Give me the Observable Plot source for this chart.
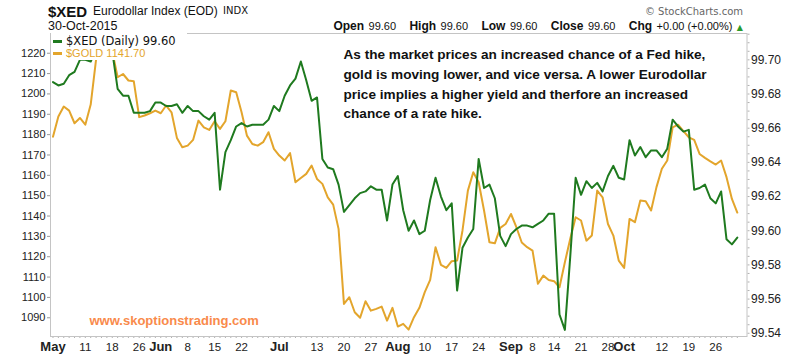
<!DOCTYPE html>
<html><head><meta charset="utf-8">
<script src="https://cdn.jsdelivr.net/npm/d3@7"></script>
<script src="https://cdn.jsdelivr.net/npm/@observablehq/plot@0.6"></script>
<style>
body{margin:0;background:#fff;}
#wrap{position:relative;width:800px;height:357px;font-family:"Liberation Sans",Arial,sans-serif;color:#111;overflow:hidden;}
.a{position:absolute;white-space:nowrap;line-height:1;}
.b{font-weight:bold;font-size:12px;}
.v{font-size:11px;}
</style></head><body>
<div id="wrap">
  <div id="chart" style="position:absolute;left:0;top:32px"></div>
  <div class="a" style="left:48px;top:4px;font-size:15px;font-weight:bold">$XED</div>
  <div class="a" style="left:93px;top:5px;font-size:12px">Eurodollar Index (EOD)</div>
  <div class="a" style="left:223px;top:6px;font-size:10px;font-family:'DejaVu Sans'">INDX</div>
  <div class="a" style="left:48px;top:20px;font-size:12.5px">30-Oct-2015</div>
  <div class="a" style="right:57px;top:7px;font-size:10px;font-family:'DejaVu Sans';color:#666">© StockCharts.com</div>
  <div class="a" id="ohlc" style="right:57px;top:19px;height:12px;line-height:12px"></div>
  <div id="legend" class="a" style="left:51px;top:33px;width:136px;height:27px;background:#fff"></div>
</div>
<script>
// ---- data (trading days 1-May-2015 .. 30-Oct-2015, index 0..127) ----
const xedValues = [
 99.687,99.685,99.686,99.691,99.693,99.700,99.700,99.699,99.706,99.710,
 99.712,99.705,99.683,99.679,99.679,99.669,99.669,99.669,99.670,99.675,
 99.675,99.673,99.673,99.674,99.669,99.673,99.670,99.670,99.667,99.665,
 99.669,99.624,99.646,99.653,99.661,99.663,99.661,99.662,99.662,99.662,
 99.665,99.673,99.670,99.679,99.685,99.689,99.699,99.688,99.676,99.678,
 99.642,99.637,99.636,99.627,99.611,99.615,99.619,99.622,99.623,99.626,
 99.624,99.624,99.606,99.627,99.632,99.612,99.600,99.606,99.598,99.600,
 99.618,99.631,99.620,99.612,99.616,99.565,99.590,99.596,99.601,99.642,
 99.625,99.627,99.619,99.597,99.591,99.598,99.601,99.603,99.603,99.602,
 99.604,99.606,99.610,99.610,99.551,99.542,99.585,99.631,99.621,99.629,
 99.625,99.628,99.623,99.632,99.638,99.631,99.630,99.653,99.644,99.649,
 99.643,99.647,99.647,99.643,99.648,99.665,99.661,99.658,99.659,99.624,
 99.625,99.627,99.619,99.616,99.623,99.595,99.592,99.596];
const goldValues = [
 1179.0,1188.9,1193.8,1191.8,1185.6,1188.2,1184.9,1194.8,1217.0,1223.0,
 1226.0,1221.0,1208.2,1209.8,1206.6,1206.2,1188.6,1189.4,1190.5,1191.8,
 1190.5,1194.3,1191.0,1178.4,1173.8,1174.6,1177.4,1186.9,1183.6,1182.3,
 1186.6,1182.8,1186.6,1201.7,1200.8,1191.0,1179.5,1175.4,1174.6,1176.3,
 1181.2,1173.0,1169.7,1167.3,1170.9,1156.6,1158.7,1160.7,1164.8,1158.2,
 1155.8,1149.2,1145.6,1133.7,1096.8,1100.1,1092.7,1090.0,1098.1,1093.5,
 1094.4,1095.5,1088.6,1094.9,1085.7,1087.0,1084.2,1090.3,1094.9,1102.6,
 1108.6,1124.7,1116.0,1114.5,1117.8,1118.1,1132.9,1152.5,1161.5,1156.6,
 1142.7,1127.1,1126.6,1134.2,1136.1,1141.0,1134.5,1127.0,1124.7,1123.0,
 1106.7,1110.7,1108.6,1108.0,1105.0,1117.3,1128.8,1139.4,1137.8,1127.9,
 1130.4,1152.5,1149.2,1136.1,1130.4,1118.1,1114.5,1138.6,1137.0,1147.6,
 1147.3,1142.7,1154.2,1163.2,1167.3,1183.6,1184.9,1181.7,1178.7,1177.4,
 1170.5,1168.6,1166.9,1165.3,1167.3,1159.1,1148.4,1141.7];
const monthTickIdx = [0,20,42,64,85,106];
const monthTickLabels = ["May","Jun","Jul","Aug","Sep","Oct"];
const dayTickIdx = [6,11,16,25,30,35,49,54,59,69,74,79,89,93,98,103,113,118,123];
const dayTickLabels = ["11","18","26","8","15","22","13","20","27","10","17","24","8","14","21","28","12","19","26"];
const goldTicks = [1090,1100,1110,1120,1130,1140,1150,1160,1170,1180,1190,1200,1210,1220];
const xedTicks = [99.54,99.56,99.58,99.60,99.62,99.64,99.66,99.68,99.70];
const legendNames = ["$XED (Daily) 99.60","$GOLD 1141.70"];
const ohlc = [["Open","99.60"],["High","99.60"],["Low","99.60"],["Close","99.60"],["Chg","+0.00 (+0.00%)"]];
const note = "As the market prices an increased chance of a Fed hike,\ngold is moving lower, and vice versa. A lower Eurodollar\nprice implies a higher yield and therfore an increased\nchance of a rate hike.";
const watermark = "www.skoptionstrading.com";

const GREEN = "#1f7a1f", GOLD = "#e3a52c";

// header OHLC line
document.getElementById("ohlc").innerHTML = ohlc.map(([k,v]) =>
  `<span class="b">${k}</span> <span class="v">${v}</span>`).join("&nbsp;&nbsp;&nbsp;") +
  ` <span style="font-family:'DejaVu Sans';font-size:8px;color:#2a9a2a">▲</span>`;

// legend
document.getElementById("legend").innerHTML =
  `<div style="position:absolute;left:2px;top:3px;height:11.5px;line-height:11.5px;display:flex;align-items:center;font-family:'DejaVu Sans';font-size:11.5px;color:#111"><span style="display:inline-block;width:9px;height:3px;background:${GREEN};margin-right:4px"></span>${legendNames[0]}</div>` +
  `<div style="position:absolute;left:2px;top:15px;height:11px;line-height:11px;display:flex;align-items:center;font-size:11px;color:${GOLD}"><span style="display:inline-block;width:9px;height:3px;background:${GOLD};margin-right:4px"></span>${legendNames[1]}</div>`;

// XED is drawn against the right axis: map it into the left (gold) scale's units
const xedToGold = d3.scaleLinear().domain([99.54, 99.70]).range([1082.39, 1216.76]);
const rows = xedValues.map((v, i) => ({i, xed: xedToGold(v), gold: goldValues[i]}));
const allDays = d3.range(xedValues.length);
const monthMap = new Map(monthTickIdx.map((d, k) => [d, monthTickLabels[k]]));
const dayMap = new Map(dayTickIdx.map((d, k) => [d, dayTickLabels[k]]));
const minorXed = d3.range(99.54, 99.7151, 0.005).map(xedToGold);

const chart = Plot.plot({
  width: 800, height: 325,
  marginTop: 1, marginBottom: 21, marginLeft: 50, marginRight: 53.5,
  x: {type: "linear", domain: [-0.46, 128.8], label: null},
  y: {domain: [1080.8, 1229.7], label: null},
  style: {fontFamily: "'Liberation Sans', Arial, sans-serif", fontSize: "11px", color: "#222", background: "white"},
  marks: [
    Plot.axisX({ticks: allDays, tickSize: 2, tickFormat: () => "", stroke: "#b0b0b0"}),
    Plot.axisY({anchor: "right", ticks: minorXed, tickSize: 2, tickFormat: () => "", stroke: "#b0b0b0"}),
    Plot.axisY({anchor: "left", ticks: goldTicks, tickSize: 3, tickPadding: 2, tickFormat: d => String(d), fontSize: 11, stroke: "#999"}),
    Plot.axisY({anchor: "right", ticks: xedTicks.map(xedToGold), tickSize: 0, tickPadding: 4,
      tickFormat: d => xedToGold.invert(d).toFixed(2), fontSize: 12}),
    Plot.axisX({ticks: dayTickIdx, tickSize: 0, tickPadding: 6, tickFormat: d => dayMap.get(d), fontSize: 11.5}),
    Plot.axisX({ticks: monthTickIdx, tickSize: 0, tickPadding: 5, tickFormat: d => monthMap.get(d), fontSize: 13, fontWeight: "bold"}),
    Plot.lineY(rows, {x: "i", y: "gold", stroke: GOLD, strokeWidth: 2, clip: true}),
    Plot.lineY(rows, {x: "i", y: "xed", stroke: GREEN, strokeWidth: 2, clip: true}),
    Plot.frame({stroke: "#c4c4c4"}),
    Plot.text([note], {frameAnchor: "top-left", dx: 293, dy: 12, lineAnchor: "top", textAnchor: "start",
      fontSize: 13.6, fontWeight: "bold", lineHeight: 1.44, fill: "#111"}),
    Plot.text([watermark], {frameAnchor: "bottom-left", dx: 39, dy: -16, lineAnchor: "middle", textAnchor: "start",
      fontSize: 13, fontWeight: "bold", fill: "#f98a4b"})
  ]
});
document.getElementById("chart").appendChild(chart);
</script>
</body></html>
